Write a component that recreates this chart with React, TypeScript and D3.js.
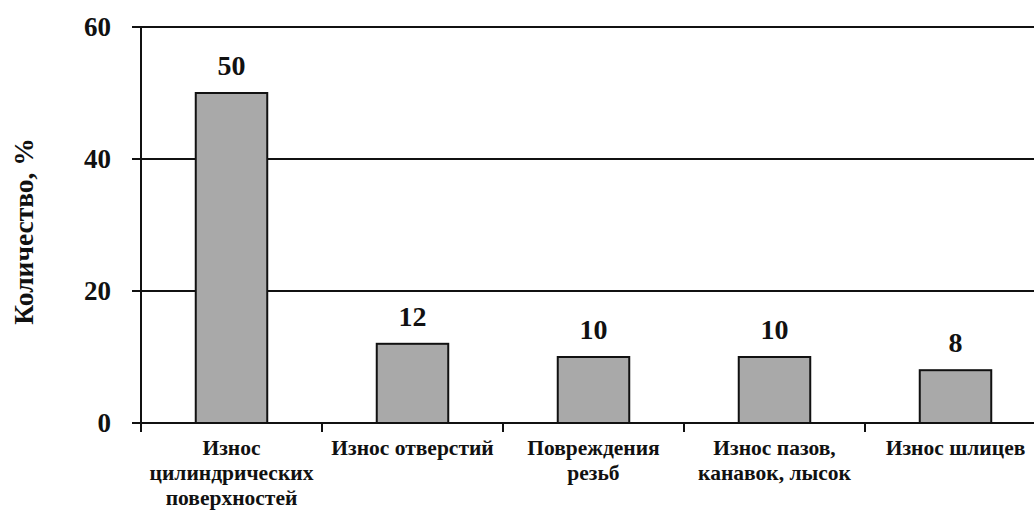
import React from "react";
import * as d3 from "d3";

const categories: string[][] = [
  ["Износ", "цилиндрических", "поверхностей"],
  ["Износ отверстий"],
  ["Повреждения", "резьб"],
  ["Износ пазов,", "канавок, лысок"],
  ["Износ шлицев"],
];
const values: number[] = [50, 12, 10, 10, 8];
const yTicks: number[] = [0, 20, 40, 60];
const yTitle = "Количество, %";

const W = 1034;
const H = 510;
const FONT = "'Liberation Serif', 'Times New Roman', serif";

export default function App() {
  const x0 = 141;
  const x1 = 1046;
  const yTop = 27;
  const yBottom = 423;
  const idx = categories.map((_, i) => String(i));
  const x = d3.scaleBand<string>().domain(idx).range([x0, x1]).paddingInner(0).paddingOuter(0);
  const y = d3.scaleLinear().domain([0, 60]).range([yBottom, yTop]);
  const bw = x.bandwidth();
  const barW = bw * 0.395;

  return (
    <svg
      width={W}
      height={H}
      style={{ position: "absolute", left: 0, top: 0, background: "#fff" }}
      fontFamily={FONT}
      fontWeight="bold"
    >
      {yTicks.filter((t) => t > 0).map((t) => (
        <line key={"g" + t} x1={132} x2={W} y1={y(t)} y2={y(t)} stroke="#111" strokeWidth={2} />
      ))}
      {values.map((v, i) => {
        const cx = (x(String(i)) as number) + bw / 2;
        return (
          <g key={"b" + i}>
            <rect
              x={cx - barW / 2}
              y={y(v)}
              width={barW}
              height={y(0) - y(v)}
              fill="#a9a9a9"
              stroke="#111"
              strokeWidth={2}
            />
            <text x={cx} y={y(v) - 18} textAnchor="middle" fontSize={28} fill="#111">
              {v}
            </text>
          </g>
        );
      })}
      <line x1={132} x2={W} y1={y(0)} y2={y(0)} stroke="#111" strokeWidth={2} />
      {idx.map((k) => (
        <line key={"xt" + k} x1={x(k) as number} x2={x(k) as number} y1={y(0)} y2={y(0) + 9} stroke="#111" strokeWidth={2} />
      ))}
      <line x1={x1} x2={x1} y1={y(0)} y2={y(0) + 9} stroke="#111" strokeWidth={2} />
      <line x1={x0} x2={x0} y1={y(60)} y2={y(0) + 9} stroke="#111" strokeWidth={2} />
      {yTicks.map((t) => (
        <g key={"yt" + t}>
          <line x1={132} x2={x0} y1={y(t)} y2={y(t)} stroke="#111" strokeWidth={2} />
          <text x={111} y={y(t)} dy="0.35em" textAnchor="end" fontSize={27} fill="#111">
            {t}
          </text>
        </g>
      ))}
      {categories.map((lines, i) => {
        const cx = (x(String(i)) as number) + bw / 2;
        return (
          <text key={"c" + i} x={cx} y={455} textAnchor="middle" fontSize={21.5} fill="#111">
            {lines.map((l, j) => (
              <tspan key={j} x={cx} y={455 + j * 25}>
                {l}
              </tspan>
            ))}
          </text>
        );
      })}
      <text
        transform={`translate(33, ${(138 + 325) / 2}) rotate(-90)`}
        textAnchor="middle"
        fontSize={27.5}
        fill="#111"
      >
        {yTitle}
      </text>
    </svg>
  );
}
